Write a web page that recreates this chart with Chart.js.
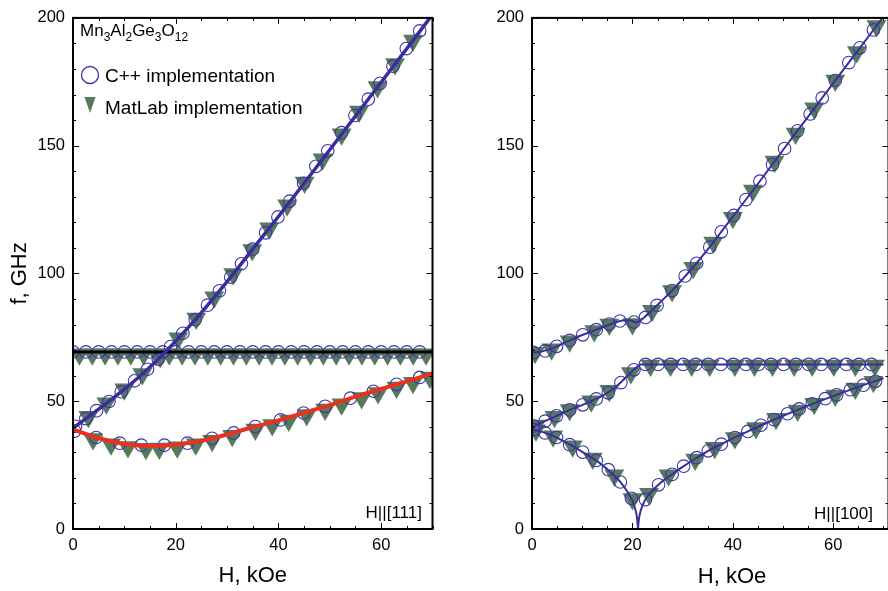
<!DOCTYPE html>
<html>
<head>
<meta charset="utf-8">
<script src="https://cdn.jsdelivr.net/npm/chart.js@4.4.1/dist/chart.umd.min.js"></script>
<style>
  body { margin:0; width:888px; height:591px; overflow:hidden; position:relative; background:#fff;
         font-family:'Liberation Sans', Arial, Helvetica, sans-serif; }
  canvas { position:absolute; top:0; }
  .lbl { position:absolute; line-height:1; white-space:nowrap; color:#000; }
  .lbl sub { font-size:12px; vertical-align:baseline; position:relative; top:5px; }
  svg { position:absolute; left:0; top:0; }
</style>
</head>
<body>
<canvas id="left" width="444" height="591" style="left:0"></canvas>
<canvas id="right" width="456" height="591" style="left:444px"></canvas>

<svg width="888" height="591">
  <circle cx="90" cy="75" r="8.5" fill="none" stroke="#3d33aa" stroke-width="1.3"/>
  <polygon points="84.5,97 95.5,97 90,113" fill="#587a5c"/>
</svg>
<div class="lbl" style="left:80px; top:21.5px; font-size:17px">Mn<sub>3</sub>Al<sub>2</sub>Ge<sub>3</sub>O<sub>12</sub></div>
<div class="lbl" style="left:105px; top:66px; font-size:19px">C++ implementation</div>
<div class="lbl" style="left:105px; top:97.5px; font-size:19px">MatLab implementation</div>
<div class="lbl" style="right:466px; top:503.5px; font-size:17px">H||[111]</div>
<div class="lbl" style="right:15px; top:504.5px; font-size:17px">H||[100]</div>
<div class="lbl" style="left:632px; width:200px; text-align:center; top:565px; font-size:22px">H, kOe</div>

<script>
// ---------- ticks ----------
const xTicks = [0, 20, 40, 60];
const yTicks = [0, 50, 100, 150, 200];

// ---------- H||[111] (left) ----------
const h111SteepH = [0, 2.5, 5, 7.5, 10, 12.5, 15, 17.5, 20, 22.5, 25, 30, 35, 40, 45, 50, 55, 60, 65, 70];
const h111SteepF = [39.5, 43.2, 46.9, 50.7, 54.7, 58.9, 63.4, 68.3, 73.5, 79, 84.7, 96.8, 109.5, 122.3, 135.3, 148.4, 161.6, 174.8, 188, 201.3];
const h111SteepCircH = [0.5, 2.5, 4.6, 7.0, 9.4, 12.0, 14.5, 16.6, 19.0, 21.4, 23.8, 26.2, 28.5, 30.7, 32.8, 35.0, 37.5, 39.9, 42.2, 44.9, 47.3, 49.6, 52.3, 54.9, 57.5, 59.8, 62.3, 64.9, 67.5];
const h111SteepCircF = [40.2, 43.2, 46.3, 49.9, 53.7, 58.0, 62.5, 66.5, 71.4, 76.6, 81.9, 87.6, 93.2, 98.6, 103.8, 109.5, 115.9, 122.1, 128.3, 135.3, 141.9, 148.0, 155.1, 161.8, 168.2, 174.4, 181.1, 188, 194.9];
const h111SteepTriH = [3.0, 6.5, 10.0, 13.5, 17.0, 20.5, 24.0, 27.5, 31.2, 34.9, 38.2, 41.7, 45.1, 48.6, 52.3, 55.7, 59.3, 62.7, 66.2];
const h111SteepTriF = [43.9, 49.2, 54.7, 60.7, 67.3, 74.6, 82.4, 90.7, 99.8, 109.2, 117.7, 126.7, 135.6, 144.7, 154.5, 163.4, 173, 182, 191.2];

const h111FlatH = [0, 70];
const h111FlatF = [69.3, 69.3];
const h111FlatCircH = [0, 2.5, 5, 7.5, 10, 12.5, 15, 17.5, 20, 22.5, 25, 27.5, 30, 32.5, 35, 37.5, 40, 42.5, 45, 47.5, 50, 52.5, 55, 57.5, 60, 62.5, 65, 67.5];
const h111FlatCircF = [69.3, 69.3, 69.3, 69.3, 69.3, 69.3, 69.3, 69.3, 69.3, 69.3, 69.3, 69.3, 69.3, 69.3, 69.3, 69.3, 69.3, 69.3, 69.3, 69.3, 69.3, 69.3, 69.3, 69.3, 69.3, 69.3, 69.3, 69.3];
const h111FlatTriH = [1.25, 3.75, 6.25, 8.75, 11.25, 13.75, 16.25, 18.75, 21.25, 23.75, 26.25, 28.75, 31.25, 33.75, 36.25, 38.75, 41.25, 43.75, 46.25, 48.75, 51.25, 53.75, 56.25, 58.75, 61.25, 63.75, 66.25, 68.75];
const h111FlatTriF = [68.4, 68.4, 68.4, 68.4, 68.4, 68.4, 68.4, 68.4, 68.4, 68.4, 68.4, 68.4, 68.4, 68.4, 68.4, 68.4, 68.4, 68.4, 68.4, 68.4, 68.4, 68.4, 68.4, 68.4, 68.4, 68.4, 68.4, 68.4];

const h111LowH = [0, 5, 10, 15, 20, 25, 30, 35, 40, 45, 50, 55, 60, 65, 70];
const h111LowF = [39, 35.5, 33.3, 32.5, 33, 34.5, 37, 39.8, 42.5, 45.5, 48.5, 51.8, 54.8, 57.8, 60.8];
const h111LowCircH = [0.3, 4.5, 9.1, 13.3, 17.8, 22.3, 27.1, 31.3, 35.5, 40.4, 44.9, 49.1, 54, 58.5, 63, 67.5];
const h111LowCircF = [38.3, 35.8, 33.6, 32.8, 32.8, 33.6, 35.5, 37.6, 40.1, 42.7, 45.4, 48, 51.2, 53.9, 56.6, 59.3];
const h111LowTriH = [3.9, 7.4, 10.7, 14.2, 16.8, 20.3, 23.9, 27.1, 31, 35.5, 38.8, 42, 45.5, 49.1, 52.3, 56.2, 59.4, 63, 66.2, 69.5];
const h111LowTriF = [35.2, 33.2, 32.1, 31.4, 31.5, 32, 33.2, 34.5, 36.5, 38.9, 40.7, 42.5, 44.6, 46.8, 48.8, 51.3, 53.2, 55.4, 57.2, 59.3];

// ---------- H||[100] (right) ----------
const h100UpAH = [0, 2, 4, 6, 8, 10, 12, 14, 16, 18, 19.5, 20.8];
const h100UpAF = [69, 69.5, 70.7, 72.4, 74.2, 75.9, 77.4, 78.9, 80.4, 81.6, 81.7, 80.6];
const h100UpBH = [20.8, 22, 24, 26, 28, 30, 32.5, 35, 37.5, 40, 45, 50, 55, 60, 65, 70];
const h100UpBF = [80.6, 82.2, 85.8, 89.6, 93.5, 97.8, 103.4, 109.4, 115.8, 122.2, 135.1, 148.3, 161.4, 174.5, 187.5, 200.5];
const h100UpCircH = [0.3, 2.6, 4.9, 7.5, 10.1, 12.8, 15.4, 17.5, 20.3, 22.6, 24.9, 27.9, 30.5, 32.8, 35.4, 37.7, 40.2, 42.6, 45.4, 47.9, 50.3, 52.9, 55.4, 57.8, 60.4, 63.1, 65.3, 68];
const h100UpCircF = [69.1, 69.7, 71.5, 73.8, 76, 78, 80.2, 81.4, 81, 82.8, 87.5, 93.3, 99, 104, 110.3, 116.3, 122.7, 128.9, 136.1, 142.6, 148.9, 155.8, 162.4, 168.7, 175.5, 182.5, 188.3, 195.3];
const h100UpTriH = [0.6, 3.9, 7.5, 12.4, 15.4, 20, 23.9, 27.9, 32.1, 36.1, 40, 44, 48.3, 52.5, 56.2, 60.4, 64.7, 68.6];
const h100UpTriF = [69, 70.3, 73.5, 77.5, 80, 80.2, 85.4, 93.1, 102.2, 112.1, 121.8, 132.5, 143.8, 154.8, 164.6, 175.5, 186.7, 196.8];

const h100MidAH = [0, 2, 4, 6, 8, 10, 12, 14, 16, 18, 20, 21.5];
const h100MidAF = [40, 41.7, 43.5, 45.3, 47, 48.5, 50.2, 52.1, 54.6, 58, 61.8, 64.4];
const h100MidBH = [21.5, 70];
const h100MidBF = [64.4, 64.4];
const h100MidCircH = [0.3, 2.6, 4.9, 7.5, 10.1, 12.8, 15.2, 17.7, 20.3, 22.6, 25.1, 27.6, 30.1, 32.6, 35.1, 37.6, 40.1, 42.6, 45.1, 47.6, 50.1, 52.6, 55.1, 57.6, 60.1, 62.6, 65.1, 67.6];
const h100MidCircF = [40.3, 42.2, 44.3, 46.6, 48.6, 50.9, 53.3, 57.3, 62.3, 64.4, 64.4, 64.4, 64.4, 64.4, 64.4, 64.4, 64.4, 64.4, 64.4, 64.4, 64.4, 64.4, 64.4, 64.4, 64.4, 64.4, 64.4, 64.4];
const h100MidTriH = [0.8, 4.5, 7.5, 11.8, 15.4, 19.7, 23.6, 27.6, 31.8, 35.4, 40.4, 44.3, 47.9, 52.2, 55.8, 60.1, 64.4, 68.3];
const h100MidTriF = [40.5, 43.9, 46.6, 50, 54.1, 61, 64, 64, 64, 64, 64, 64, 64, 64, 64, 64, 64, 64];

const h100LowAH = [0, 2, 4, 6, 8, 10, 12, 14, 16, 17.5, 19, 20, 20.6, 20.95, 21.1];
const h100LowAF = [39, 38, 36.6, 34.7, 32.5, 30.2, 27.8, 25, 21.6, 18.6, 14.6, 11, 7.5, 3.8, 0];
const h100LowBH = [21.1, 21.3, 21.7, 22.3, 23, 24, 25, 26.5, 28, 30, 32.5, 35, 37.5, 40, 43, 46, 50, 55, 60, 65, 70];
const h100LowBF = [0, 4, 7.5, 10.5, 12.8, 15, 17, 19.5, 21.5, 24.3, 27.5, 30.5, 33, 35.5, 38.2, 40.9, 44.3, 48.3, 52, 55.6, 59];
const h100LowCircH = [0.3, 2.6, 4.9, 7.5, 10.1, 12.8, 15.2, 17.6, 19.8, 22.6, 25.2, 27.9, 30.2, 32.8, 35.1, 37.7, 40.4, 43, 45.6, 48.2, 50.9, 53.2, 55.8, 58.4, 60.7, 63.4, 66, 68.4];
const h100LowCircF = [38.9, 37.6, 35.8, 33, 30.1, 26.8, 23.2, 18.4, 12, 11.5, 17.3, 21.4, 24.6, 27.9, 30.6, 33.2, 35.8, 38.2, 40.6, 42.8, 45.1, 47, 49, 51, 52.5, 54.5, 56.3, 57.8];
const h100LowTriH = [0.8, 4.2, 8.1, 12.1, 16.4, 20, 23.3, 27.2, 32.5, 36.4, 40.4, 44.6, 48.6, 52.9, 56.2, 60.4, 64.4, 68];
const h100LowTriF = [38.6, 36.3, 32.4, 27.6, 21, 11.7, 13.8, 21, 27.2, 31.8, 35.6, 39.5, 43.1, 46.4, 49, 52.2, 55, 57.6];

// ---------- styles ----------
const FONT = "'Liberation Sans', Arial, Helvetica, sans-serif";
const LINE_BLUE = '#3a2e9e';
const MARK_BLUE = '#3d33aa';
const GREEN = '#587a5c';
const RED = '#e8321e';

const pts = (xs, ys) => xs.map((x, i) => ({ x, y: ys[i] }));

function line(xs, ys, color, width) {
  return { data: pts(xs, ys), showLine: true, borderColor: color, borderWidth: width,
           pointRadius: 0, cubicInterpolationMode: 'monotone', fill: false, order: 1 };
}
function circles(xs, ys) {
  return { data: pts(xs, ys), showLine: false, pointStyle: 'circle', pointRadius: 6.3,
           pointBorderColor: MARK_BLUE, pointBorderWidth: 1.1, pointBackgroundColor: 'rgba(0,0,0,0)', order: 2 };
}
function triangles(xs, ys) {
  return { data: pts(xs, ys), showLine: false, pointStyle: 'triangle', pointRotation: 180, pointRadius: 11.5,
           pointBackgroundColor: GREEN, pointBorderWidth: 0, order: 3 };
}

// inward ticks on all four sides + black frame
const frameTicks = {
  id: 'frameTicks',
  afterDatasetsDraw(chart) {
    const { ctx, chartArea: a, scales: { x, y } } = chart;
    ctx.save();
    ctx.strokeStyle = '#000';
    ctx.lineWidth = 1;
    ctx.beginPath();
    for (let v = 0; v <= x.max + 1e-9; v += 5) {
      const px = Math.round(x.getPixelForValue(v)) + 0.5;
      const len = xTicks.includes(v) ? 6 : 3;
      ctx.moveTo(px, a.bottom); ctx.lineTo(px, a.bottom - len);
      ctx.moveTo(px, a.top); ctx.lineTo(px, a.top + len);
    }
    for (let v = 0; v <= y.max + 1e-9; v += 10) {
      const py = Math.round(y.getPixelForValue(v)) + 0.5;
      const len = yTicks.includes(v) ? 6 : 3;
      ctx.moveTo(a.left, py); ctx.lineTo(a.left + len, py);
      ctx.moveTo(a.right, py); ctx.lineTo(a.right - len, py);
    }
    ctx.stroke();
    ctx.lineWidth = 2;
    ctx.strokeRect(a.left, a.top, a.right - a.left, a.bottom - a.top);
    ctx.restore();
  }
};

function makeOptions(xMax, yWidth, padRight, withTitles) {
  return {
    responsive: false,
    animation: false,
    layout: { padding: { top: 14, right: padRight, left: 0, bottom: 0 } },
    plugins: { legend: { display: false }, tooltip: { enabled: false } },
    scales: {
      x: {
        type: 'linear', min: 0, max: xMax,
        afterBuildTicks: s => { s.ticks = xTicks.map(v => ({ value: v })); },
        afterFit: s => { s.height = 62; },
        grid: { display: false, drawTicks: false },
        border: { display: false },
        ticks: { padding: 7, color: '#000', font: { family: FONT, size: 16.5 } },
        title: withTitles ? { display: true, text: 'H, kOe', color: '#000',
                              font: { family: FONT, size: 22 }, padding: { top: 0, bottom: 2 } }
                          : { display: false }
      },
      y: {
        type: 'linear', min: 0, max: 200,
        afterBuildTicks: s => { s.ticks = yTicks.map(v => ({ value: v })); },
        afterFit: s => { s.width = yWidth; },
        grid: { display: false, drawTicks: false },
        border: { display: false },
        ticks: { padding: 8, color: '#000', font: { family: FONT, size: 16.5 } },
        title: withTitles ? { display: true, text: 'f, GHz', color: '#000',
                              font: { family: FONT, size: 22 }, padding: { top: 7, bottom: 0 } }
                          : { display: false }
      }
    }
  };
}

new Chart(document.getElementById('left'), {
  type: 'scatter',
  data: {
    datasets: [
      line(h111SteepH, h111SteepF, LINE_BLUE, 3.5),
      line(h111FlatH, h111FlatF, '#000', 3),
      line(h111LowH, h111LowF, RED, 4),
      circles(h111SteepCircH, h111SteepCircF),
      circles(h111FlatCircH, h111FlatCircF),
      circles(h111LowCircH, h111LowCircF),
      triangles(h111SteepTriH, h111SteepTriF),
      triangles(h111FlatTriH, h111FlatTriF),
      triangles(h111LowTriH, h111LowTriF)
    ]
  },
  options: makeOptions(70, 73, 10, true),
  plugins: [frameTicks]
});

new Chart(document.getElementById('right'), {
  type: 'scatter',
  data: {
    datasets: [
      line(h100UpAH, h100UpAF, LINE_BLUE, 2),
      line(h100UpBH, h100UpBF, LINE_BLUE, 2),
      line(h100MidAH, h100MidAF, LINE_BLUE, 2),
      line(h100MidBH, h100MidBF, LINE_BLUE, 2),
      line(h100LowAH, h100LowAF, LINE_BLUE, 2),
      line(h100LowBH, h100LowBF, LINE_BLUE, 2),
      circles(h100UpCircH, h100UpCircF),
      circles(h100MidCircH, h100MidCircF),
      circles(h100LowCircH, h100LowCircF),
      triangles(h100UpTriH, h100UpTriF),
      triangles(h100MidTriH, h100MidTriF),
      triangles(h100LowTriH, h100LowTriF)
    ]
  },
  options: makeOptions(71, 88, 8, false),
  plugins: [frameTicks]
});
</script>
</body>
</html>
